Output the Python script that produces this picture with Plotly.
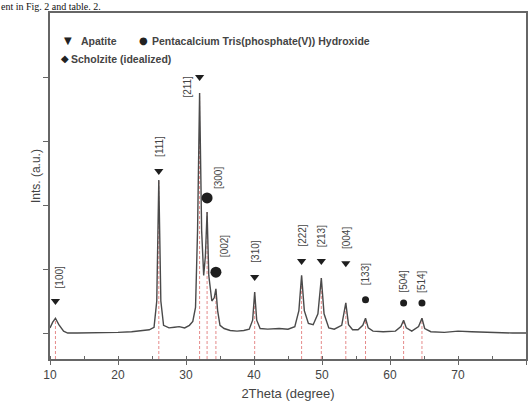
import plotly.graph_objects as go

# ---- data ----
two_theta = [10.0, 10.4, 10.8, 11.3, 12.0, 12.6, 14.0, 16.0, 18.0, 20.0, 22.0, 23.5, 24.6,
             25.3, 25.7, 26.0, 26.3, 26.7, 27.5, 28.3, 29.0, 29.8, 30.5, 31.0, 31.4, 31.7,
             32.0, 32.3, 32.6, 32.85, 33.1, 33.35, 33.8, 34.15, 34.4, 34.65, 35.0, 35.6,
             36.5, 37.5, 38.5, 39.3, 39.8, 40.1, 40.4, 40.9, 42.0, 43.7, 45.0, 46.0, 46.6,
             47.0, 47.4, 48.0, 48.7, 49.4, 49.9, 50.3, 51.0, 51.8, 52.9, 53.5, 53.9, 54.5,
             55.3, 56.0, 56.4, 56.8, 57.5, 59.0, 60.8, 61.6, 62.0, 62.4, 63.2, 64.2, 64.7,
             65.1, 66.0, 68.0, 70.0, 72.0, 74.0, 76.0, 78.0, 80.0]
intensity = [0.08, 0.17, 0.23, 0.13, 0.03, 0.0, 0.0, 0.0, 0.0, 0.01, 0.02, 0.04, 0.05,
             0.09, 0.5, 2.39, 0.5, 0.12, 0.08, 0.09, 0.10, 0.08, 0.12, 0.18, 0.4, 1.6,
             3.75, 1.6, 0.9, 1.2, 1.89, 0.9, 0.5, 0.55, 0.69, 0.35, 0.12, 0.07,
             0.04, 0.03, 0.04, 0.06, 0.2, 0.64, 0.2, 0.07, 0.06, 0.07, 0.06, 0.10, 0.35,
             0.9, 0.35, 0.15, 0.13, 0.3, 0.86, 0.3, 0.08, 0.06, 0.12, 0.47, 0.13, 0.05,
             0.05, 0.12, 0.23, 0.08, 0.03, 0.02, 0.03, 0.10, 0.2, 0.08, 0.03, 0.10, 0.23,
             0.07, 0.02, 0.01, 0.03, 0.02, 0.01, 0.0, 0.0, 0.0]

peak_pos = [10.8, 26.0, 32.0, 33.1, 34.4, 40.1, 47.0, 49.9, 53.5, 56.4, 62.0, 64.7]
peak_top = [0.23, 2.39, 3.75, 1.89, 0.69, 0.64, 0.9, 0.86, 0.47, 0.23, 0.2, 0.23]
peak_hkl = ["[100]", "[111]", "[211]", "[300]", "[002]", "[310]", "[222]", "[213]",
            "[004]", "[133]", "[504]", "[514]"]
peak_phase = ["Apatite", "Apatite", "Apatite", "Pentacalcium", "Pentacalcium", "Apatite",
              "Apatite", "Apatite", "Apatite", "Scholzite", "Scholzite", "Scholzite"]
marker_height = [0.5, 2.53, 4.0, 2.11, 0.95, 0.875, 1.125, 1.125, 1.09, 0.52, 0.47, 0.47]

x_ticks = [10, 20, 30, 40, 50, 60, 70, 80]
y_ticks = [0, 1, 2, 3, 4]
legend_names = ["Apatite", "Pentacalcium Tris(phosphate(V)) Hydroxide", "Scholzite (idealized)"]

# ---- layout constants ----
W, H = 529, 407
ML, MR, MT, MB = 50, 1, 13, 48
PW, PH = W - ML - MR, H - MT - MB
XR = [10, 80]
YR = [-0.406, 5.0]
TXT = "#444444"
FONT = "Liberation Sans, Arial, sans-serif"


def px_x(p):
    return (p - ML) / PW


def px_y(p):
    return 1 - (p - MT) / PH


fig = go.Figure()

# dashed reference lines from the axis to each peak
for p, t in zip(peak_pos, peak_top):
    fig.add_trace(go.Scatter(x=[p, p], y=[YR[0], t], mode="lines",
                             line=dict(color="#e58a8a", width=1, dash="3px,2px"),
                             showlegend=False, hoverinfo="skip"))

# pattern
fig.add_trace(go.Scatter(x=two_theta, y=intensity, mode="lines",
                         line=dict(color="#4a4a4a", width=1.4),
                         showlegend=False))

# phase markers
style = {"Apatite": dict(symbol="triangle-down", size=8),
         "Pentacalcium": dict(symbol="circle", size=11),
         "Scholzite": dict(symbol="circle", size=7)}
for ph, st in style.items():
    xs = [p for p, q in zip(peak_pos, peak_phase) if q == ph]
    ys = [m for m, q in zip(marker_height, peak_phase) if q == ph]
    fig.add_trace(go.Scatter(x=xs, y=ys, mode="markers",
                             marker=dict(color="#1e1e1e", **st),
                             showlegend=False))

# hkl labels (pixel offsets from markers)
shift = {"[100]": (4, 24), "[211]": (-13, -10), "[300]": (12, 20), "[002]": (8, 26),
         "[504]": (0, 21), "[514]": (0, 21)}
for p, m, lab in zip(peak_pos, marker_height, peak_hkl):
    dx, dy = shift.get(lab, (0, 25))
    fig.add_annotation(x=p, y=m, text=lab, showarrow=False, textangle=-90,
                       xshift=dx, yshift=dy, font=dict(size=10, color=TXT, family=FONT))

# legend drawn as text
leg_font = dict(size=10.5, color=TXT, family=FONT)
legend_rows = [(62, 33, "\u25BC", 79, legend_names[0]),
               (137, 33, "\u25CF", 150, legend_names[1]),
               (59, 51, "\u25C6", 69, legend_names[2])]
for sx, sy, sym, tx, name in legend_rows:
    fig.add_annotation(xref="paper", yref="paper", x=px_x(sx), y=px_y(sy), text=sym,
                       showarrow=False, font=dict(size=10, color="#222", family="DejaVu Sans"))
    fig.add_annotation(xref="paper", yref="paper", x=px_x(tx), y=px_y(sy),
                       xanchor="left", text="<b>" + name + "</b>", showarrow=False,
                       font=leg_font)

# y title
fig.add_annotation(xref="paper", yref="paper", x=px_x(27), y=px_y(176), text="Ints. (a.u.)",
                   textangle=-90, showarrow=False, font=dict(size=12, color=TXT, family=FONT))

# text of the page above the chart
fig.add_annotation(xref="paper", yref="paper", x=px_x(0), y=px_y(0), xanchor="left",
                   yanchor="top", borderpad=0, text="ent in Fig. 2 and table. 2.",
                   showarrow=False,
                   font=dict(size=10, color="#111", family="Liberation Serif, serif"))

fig.update_layout(
    width=W, height=H, margin=dict(l=ML, r=MR, t=MT, b=MB),
    paper_bgcolor="white", plot_bgcolor="white", showlegend=False,
    xaxis=dict(range=XR, tickvals=x_ticks, ticks="outside", ticklen=4, tickcolor="#666",
               showline=True, linecolor="#666", linewidth=1.5, mirror=True,
               showgrid=False, zeroline=False,
               minor=dict(dtick=5, ticks="inside", ticklen=3, tickcolor="#666"),
               tickfont=dict(size=12, color=TXT, family=FONT),
               title=dict(text="2Theta (degree)", font=dict(size=13, color=TXT, family=FONT),
                          standoff=8)),
    yaxis=dict(range=YR, tickvals=y_ticks, ticks="outside", ticklen=5, tickcolor="#666",
               showticklabels=False, showline=True, linecolor="#666", linewidth=1.5,
               mirror=True, showgrid=False, zeroline=False),
)

fig.write_html("out.html")
